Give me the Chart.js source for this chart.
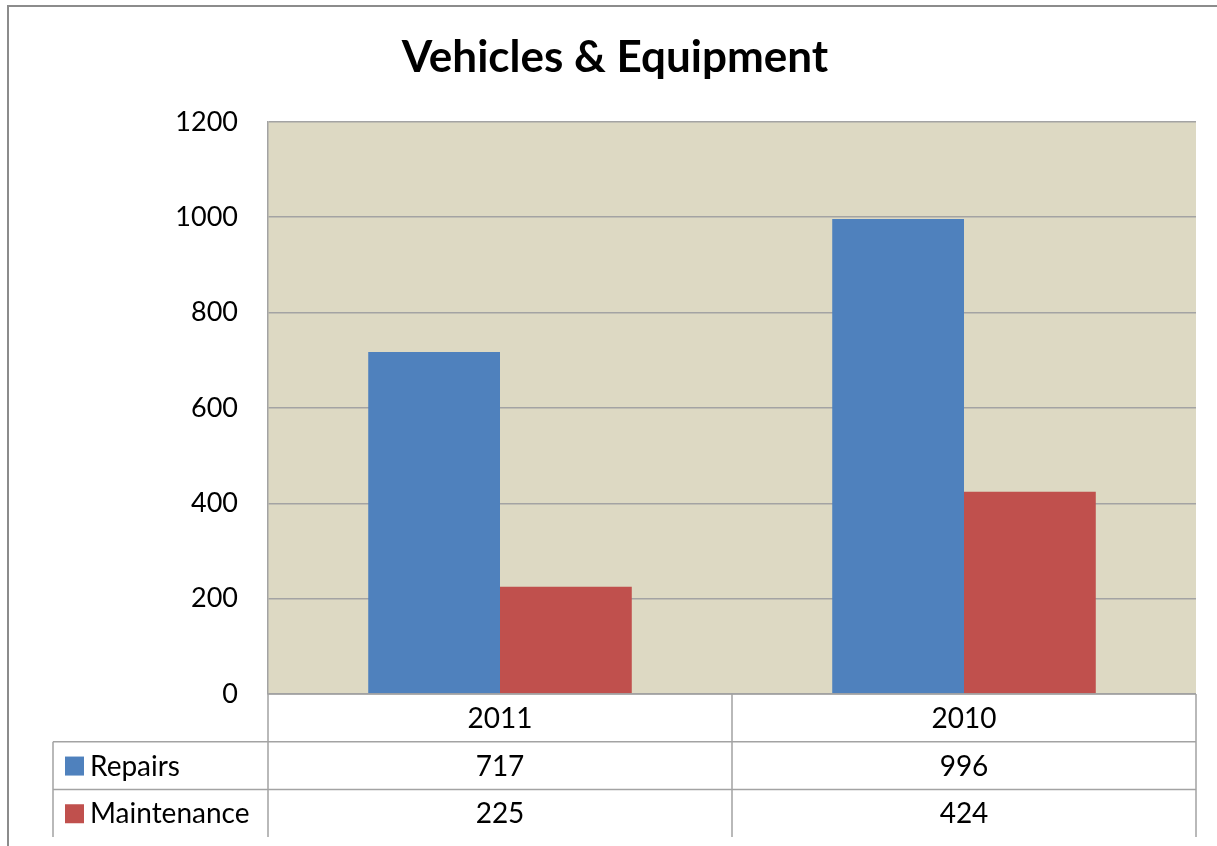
<!DOCTYPE html>
<html>
<head>
<meta charset="utf-8">
<script src="https://cdn.jsdelivr.net/npm/chart.js@4"></script>
<style>
  html, body { margin: 0; padding: 0; background: #fff; }
  #wrap { position: relative; width: 1217px; height: 846px; overflow: hidden; }
  #frame { position: absolute; left: 7px; top: 5px; width: 1220px; height: 860px;
           border-left: 2px solid #8c8c8c; border-top: 2px solid #8c8c8c; }
  canvas { position: absolute; left: 0; top: 0; }
</style>
</head>
<body>
<div id="wrap">
  <div id="frame"></div>
  <canvas id="chart" width="1217" height="846"></canvas>
</div>
<script>
// Vehicles & Equipment - repairs vs maintenance
const categories = ['2011', '2010'];
const repairs = [717, 996];
const maintenance = [225, 424];
const seriesNames = ['Repairs', 'Maintenance'];
const seriesColors = ['#4F81BD', '#C0504D'];
const yMax = 1200;
const yStep = 200;

const FONT = 'Lato, "Open Sans", sans-serif';
const gridColor = '#a3a3a3';

// plot area fill + data table under the bars
const tablePlugin = {
  id: 'dataTable',
  beforeDraw(chart) {
    const { ctx, chartArea: a } = chart;
    ctx.save();
    ctx.fillStyle = '#DDD9C3';
    ctx.fillRect(a.left, a.top, a.right - a.left, a.bottom - a.top);
    ctx.restore();
  },
  afterDraw(chart) {
    const { ctx, chartArea: a } = chart;
    const x = chart.scales.x;
    const rowH = 47.7;
    const tableLeft = 53;
    const top = a.bottom;
    const rows = [repairs, maintenance];

    // column edges from the category scale
    const edges = [a.left];
    for (let i = 0; i < categories.length - 1; i++) {
      edges.push((x.getPixelForValue(i) + x.getPixelForValue(i + 1)) / 2);
    }
    edges.push(a.right);

    ctx.save();
    ctx.strokeStyle = gridColor;
    ctx.lineWidth = 1.5;
    ctx.beginPath();
    ctx.moveTo(a.left, top); ctx.lineTo(a.right, top);
    for (let r = 1; r <= rows.length; r++) {
      ctx.moveTo(tableLeft, top + r * rowH); ctx.lineTo(a.right, top + r * rowH);
    }
    ctx.moveTo(tableLeft, top + rowH); ctx.lineTo(tableLeft, top + (rows.length + 1) * rowH);
    edges.forEach(e => { ctx.moveTo(e, top); ctx.lineTo(e, top + (rows.length + 1) * rowH); });
    ctx.stroke();

    ctx.fillStyle = '#000';
    ctx.font = '28px ' + FONT;
    ctx.textAlign = 'center';
    ctx.textBaseline = 'middle';
    categories.forEach((c, i) => ctx.fillText(c, x.getPixelForValue(i), top + rowH / 2 + 1));
    rows.forEach((vals, r) => {
      const cy = top + (r + 1.5) * rowH + 1;
      vals.forEach((v, i) => ctx.fillText(String(v), x.getPixelForValue(i), cy));
      ctx.fillStyle = seriesColors[r];
      ctx.fillRect(65, cy - 10, 19, 19);
      ctx.fillStyle = '#000';
      ctx.textAlign = 'left';
      ctx.fillText(seriesNames[r], 90, cy);
      ctx.textAlign = 'center';
    });
    ctx.restore();
  }
};

new Chart(document.getElementById('chart'), {
  type: 'bar',
  data: {
    labels: categories,
    datasets: [
      { label: seriesNames[0], data: repairs, backgroundColor: seriesColors[0] },
      { label: seriesNames[1], data: maintenance, backgroundColor: seriesColors[1] },
    ]
  },
  options: {
    responsive: false,
    animation: false,
    devicePixelRatio: 1,
    layout: { padding: { left: 34, right: 21, top: 0, bottom: 152 } },
    datasets: { bar: { categoryPercentage: 0.568, barPercentage: 1 } },
    plugins: {
      legend: { display: false },
      tooltip: { enabled: false },
      title: {
        display: true,
        text: 'Vehicles & Equipment',
        color: '#000',
        font: { family: FONT, size: 44, weight: 'bold', lineHeight: 1.2 },
        padding: { top: 31, bottom: 38 }
      }
    },
    scales: {
      x: { display: false },
      y: {
        min: 0, max: yMax,
        afterFit(scale) { scale.width = 234; },
        ticks: {
          stepSize: yStep, padding: 30, color: '#000',
          font: { family: FONT, size: 27 },
          callback: v => String(v)
        },
        grid: { color: gridColor, lineWidth: 1.5, drawTicks: false },
        border: { display: true, color: gridColor, width: 1.5 }
      }
    }
  },
  plugins: [tablePlugin]
});
</script>
</body>
</html>
